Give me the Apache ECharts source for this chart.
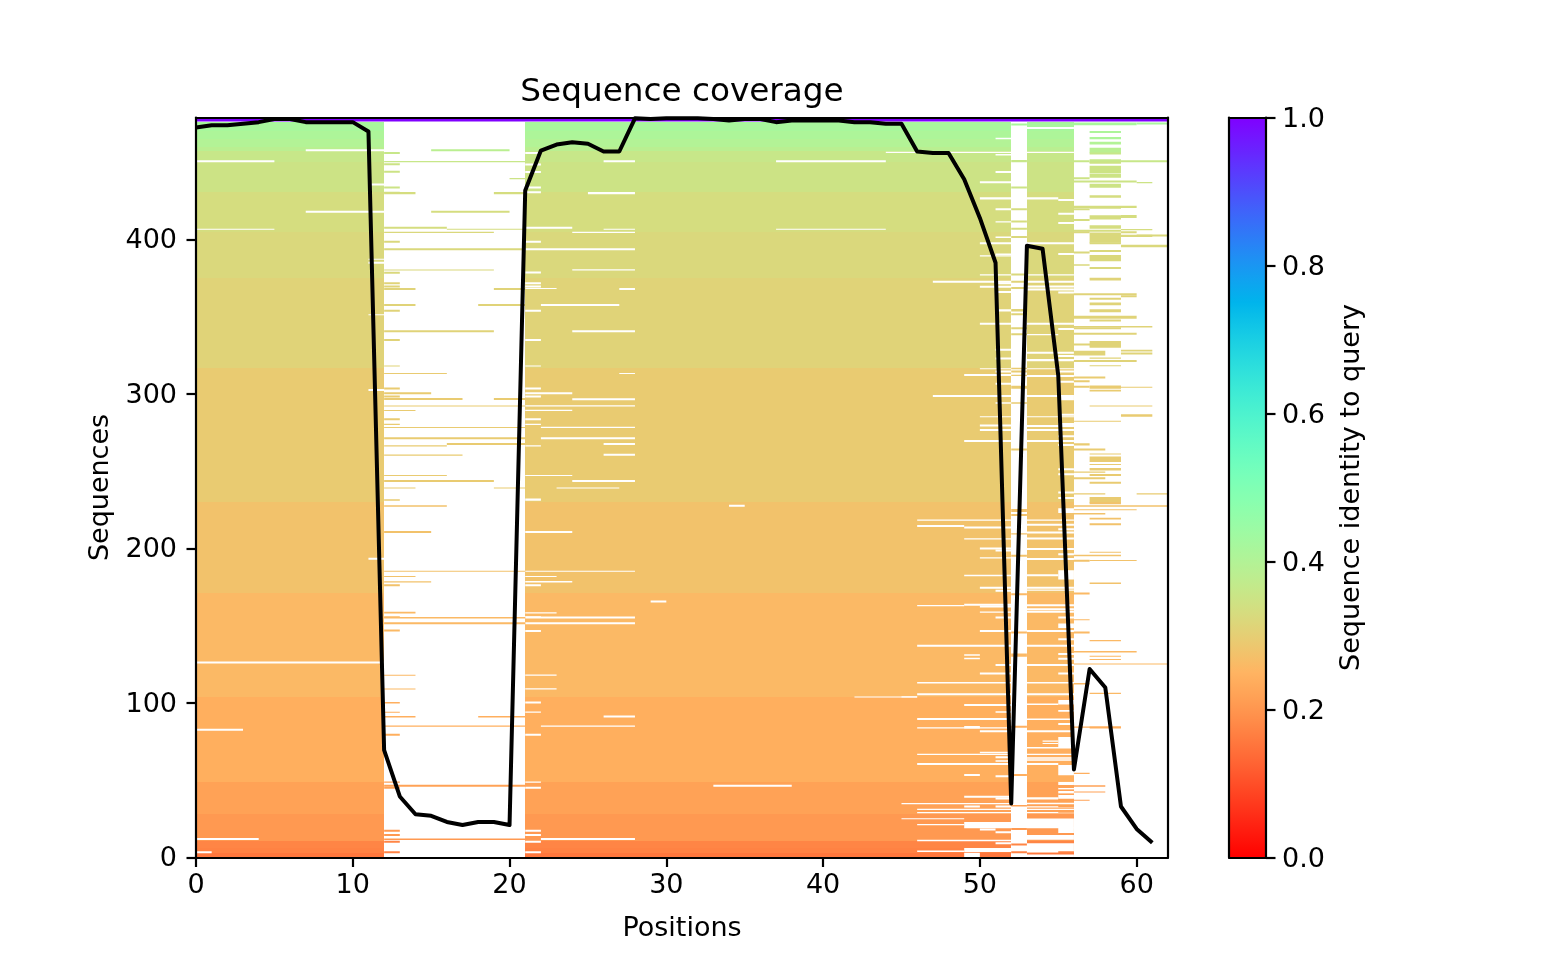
<!DOCTYPE html>
<html>
<head>
<meta charset="utf-8">
<style>html,body{margin:0;padding:0;background:#fff}#c{width:1568px;height:980px}#c canvas{filter:blur(0.45px)}</style>
<script src="https://cdn.jsdelivr.net/npm/echarts@6/dist/echarts.min.js"></script>
</head>
<body>
<div id="c"></div>
<script>
var titleText = 'Sequence coverage';
var xName = 'Positions';
var yName = 'Sequences';
var barName = 'Sequence identity to query';
var xTicks = [0, 10, 20, 30, 40, 50, 60];
var yTicks = [0, 100, 200, 300, 400];
var barTicks = [0, 0.2, 0.4, 0.6, 0.8, 1.0];

// [seq low, seq high, identity]
var identityBands = [
  [476.4, 479, 1.0], [470, 476.4, 0.42], [465, 470, 0.41], [460, 465, 0.40], [457.6, 460, 0.385],
  [450, 457.6, 0.36], [430.5, 450, 0.35], [404.6, 430.5, 0.333], [374.8, 404.6, 0.3225],
  [316.6, 374.8, 0.311], [230, 316.6, 0.293], [171, 230, 0.2755], [104, 171, 0.258],
  [49, 104, 0.241], [28, 49, 0.219], [10.7, 28, 0.205], [6, 10.7, 0.175], [3, 6, 0.17], [0, 3, 0.155]
];
var filledColumns = [[0, 12], [21, 52], [53, 56]];
var queryRow = [476.4, 0, 62, 2.6];

// white rows: [seq, from, to, thickness]
var gapsLeft = [
  [457.2,7,12],[450.1,0,5],[435,11,12],[417.3,7,12],[406.3,0,5,.5],[387,11,12,.5],[384.3,11,12],[351,11,12,.5],
  [302,11,12],[192.8,11,12],[125.6,0,12],[82,0,3],[11.3,0,4],[2.7,0,1]
];
var gapsMiddle = [
  [456.1,44,46,.6],[455.3,21,22],[450.1,26,28],[450.1,37,44],[448,21,22],[443,21,22],[433,21,22],[430,21,22],
  [429.4,25,28],[407,21,24],[406.3,26,28,.5],[406.3,37,44,.5],[404.2,24,28,.6],[398,21,22],[393,21,28],[380,24,28,.6],
  [378,21,22],[371,21,22],[369,21,22],[368,21,23,.5],[367.3,27,28],[357,22,27],[353.3,21,22],[340,24,28],[334.3,21,22],
  [317.9,21,22,.5],[313,27,28,.5],[303,21,22],[299.8,21,24],[297.8,21,22],[296,24,28],[292,21,28,.6],[289,21,24,.6],
  [283,21,22],[280,21,22,.6],[278,22,28,.6],[270.7,22,28],[267,26,28],[266,21,22,.6],[260,26,28],[247,21,24,.5],
  [243,24,28],[238.8,23,27,.6],[231,21,22],[227,34,35],[210,21,24],[185,21,28,.5],[181.6,21,23,.5],[178,21,24,.7],
  [175.6,21,22],[165,29,30],[158,21,23,.6],[155.3,21,22,.6],[154.7,21,28],[151,21,28],[146,21,22],[117.6,21,23,.6],
  [108.8,21,23,.6],[103.6,42,46,.5],[99.7,21,22],[93.7,21,22,.6],[90.6,26,28],[84.6,22,28,.6],[78.8,21,22],[48.4,21,22,.6],
  [45.8,33,38],[44.5,21,22],[16.7,21,22],[13.9,21,22],[11.3,22,28],[9.6,21,22],[2.7,21,22]
];
var gapsRightBlock = [
  [465,51,52,.7],[456,46,52,.6],[454.4,51,52,.7],[443,51,52],[436.5,50,52],[426,50,52],[419,51,52],[411,51,52,.6],[401,51,52,.7],
  [397,50,52],[390,51,52,.7],[389,50,52,.7],[376.8,50,52,.6],[372,47,52],[371,51,52],[368.8,50,52],[365.4,51,52],
  [353.5,51,52],[344.8,50,52],[328,51,52],[322.4,51,52],[316,50,52,.5],[314,51,52],[311.6,49,52],[306,51,52],[298,47,52],
  [293.7,51,52,.7],[285,50,52,.5],[279,50,52],[276,50,52],[269,49,52],
  [217.9,46,52,.7],[214,46,49],[213,49,52],[205.8,49,52,.7],[199.4,50,52],[198,51,52],[193.5,50,52,.7],[182,49,52,.8],
  [174,50,52],[172,51,52],[163,49,52],[162.7,46,49,.6],[161.8,50,52],[158.4,50,52,.7],[154.7,51,52],[146,50,52],[136.4,46,52],
  [130.6,49,50,.7],[128.4,49,50,.7],[124,51,52],[118.5,50,52],[112.7,46,52,.7],[105,46,52],[103.6,45,46,.6],[98,49,52],[93.7,51,52,.7],
  [89,46,52],[83.5,46,52,.6],[83.5,49,50,1.2],[81,50,52],[67.4,50,52,.8],[66.3,46,52,.7],[64.2,51,52],[62,51,52,.7],[59.8,46,52],[52.7,49,50],
  [52,51,52],[38.7,49,52],[37.6,51,52],[34.4,45,52,.7],[32.3,49,50],[32.3,51,52],[30.7,46,52,.7],[28.6,46,52,.7],[24.7,45,49,.6],
  [19,49,52,4],[20.8,46,49,.7],[17.4,50,51],[15.7,51,52],[10.5,46,52,.7],[8.5,51,52],[3.6,49,52,2.5],[3.6,46,49,.7],[0,49,50,3]
];
var gapsTailBlock = [
  [471.6,53,56],[456,53,56,.6],[426,53,55],[425,55,56],[416,55,56],[410,55,56],[397,53,56],[390,55,56],[376.8,53,56,.6],
  [372,53,56],[369,53,56],[367,53,56],[365,55,56],[344.8,53,56],[341.4,55,56],[338,53,55,.7],[326,53,56],[324,55,56],[321.3,53,56],
  [316,53,56,.5],[314,55,56],[311,53,56],[307.3,55,56],[298,53,56],[296,55,56,2],[286,55,56],[285,53,56,.5],[280,55,56],
  [278.6,53,56],[276,53,56],[272,55,56],[269,53,56],[266.3,55,56],[250.6,55,56],[247.4,55,56],[235.6,55,56],[232,55,56],
  [223,55,56,3],[217.9,53,56,.7],[214.7,53,56],[211.9,55,56],[209.7,53,56],[205.8,53,56],[199,53,56],[195.7,55,56],[192.5,53,56],
  [180,55,56,6],[182,53,55],[174,53,56],[172.6,53,56,.7],[162.7,53,56],[160,53,56],[158.4,53,56],[154.7,55,56],[148.5,55,56,3],
  [146,53,56],[140.7,55,56],[136.4,53,56],[131,55,56],[128,55,56],[124,53,56],[118.5,55,56],[112.7,53,56,.7],[105,53,56],
  [99,55,56,3],[98.7,53,55,.7],[94.4,55,56,.8],[89,53,56,.8],[85.7,55,56],[81,53,56],[71,55,56,7],[75,54,55,.6],[73.4,54,55,.6],
  [70.6,53,56,.7],[66.3,53,56,.7],[64,53,56,.7],[62.7,53,56,.7],[59.8,53,55],[53.3,55,56,6.5],[47,55,56,2],[44,55,56],[41.5,55,56,1.5],
  [38,55,56,3],[37.5,53,55,1.5],[34.4,53,56,.8],[32.3,53,56,.7],[30.7,53,56,.7],[28.6,53,56,.7],[19,53,56,6.3],[15.7,55,56,3.7],
  [11.5,53,56,3],[3.2,53,56,6],[0,53,56,2]
];

// coloured rows in the sparse columns: [seq, from, to, thickness]
var rowsCentre = [
  [457.2,15,20],[455.3,12,13],[450.1,12,21,.6],[448.1,12,13],[443.2,12,13],[439.1,20,21,.6],[433,12,13],[430.2,12,13,.6],
  [429.4,12,14],[429.4,19,21],[417.3,15,20],[407,12,16],[406.3,16,21,.5],[404.2,12,19,.6],[398,12,13],[393,12,21],[380,12,19,.5],
  [377.9,12,13],[371,12,13],[369,12,13],[367.3,12,14],[367.3,19,21],[357,12,14],[357,18,21],[353.3,12,13],[340,12,19],[334.3,12,13],
  [317.9,12,13,.5],[313,12,16,.5],[303,12,13],[299.8,12,15],[297.8,12,13],[296.1,12,17],[296.1,19,21],[292,12,21,.5],[289,12,14,.5],
  [283,12,13],[280,12,13,.6],[278,12,21,.5],[270.7,12,21],[267,16,21],[266,12,16,.6],[260,12,17,.7],[247,12,16,.5],[243,12,19],
  [238.8,12,14,.6],[238.8,19,21,.6],[231,12,13,.7],[227,12,16,.8],[210,12,15],[185,12,21,.5],[181.6,12,14,.5],[178,12,15,.6],[175.6,12,13],
  [158,12,14,.8],[155.3,12,13,.6],[154.7,12,21,.8],[151,12,21],[146.3,12,13],[117.6,12,14,.5],[108.8,12,14,.5],[99.7,12,13,.7],
  [93.7,12,13,.5],[90.6,12,14,.8],[90.6,18,21,.8],[84.6,12,21,.6],[78.8,12,13],[48.4,12,13,.6],[45.8,12,21],[44.5,12,13],[16.7,12,13],
  [13.9,12,13],[11.3,12,21,.8],[9.6,12,13],[2.7,12,13]
];
var rowsNarrow = [
  [473.8,52,53],[450,52,53,1.2],[433,52,53],[419,52,53],[411,52,53],[406.3,52,53],[401,52,53],[376.8,52,53],[372,52,53],[368,52,53],
  [353.5,52,53,1.5],[351,52,53],[342,52,53],[338,52,53],[316,52,53,.8],[314,52,53],[311.6,52,53,.7],[303.4,52,53,2],[293.7,52,53,.7],[263.5,52,53],
  [223.7,52,53,1.4],[221,52,53],[209,52,53,.7],[194.6,52,53],[169.8,52,53],[145,52,53],[130,52,53,2],[84,52,53],[52.7,52,53],[33,52,53,.7],
  [17.8,52,53],[7.7,52,53],[2.7,52,53]
];
var rowsTail = [
  [474,56,60,1.8],[474.5,60,62],[469,57,59],[465,57,59],[461.5,57,59,1.8],[456,57,59,3.4],[455,57,59],[449.5,57,59,2.4],[450,56,57],[450,59,62],[449,57,59],
  [443,57,59,4.8],[440,57,59,2.8],[439,56,57],[437,56,60],[436.5,60,61,.6],[433.5,57,59,2.6],[427,57,59,1.7],[420.5,56,60],[419,56,57],[420,57,59],[413,57,59,2.8],[412,56,57],
  [414,59,60,1.4],[407,57,59,2.2],[406,59,61,.6],[405,56,59],[404,59,60],[404,56,57],[398,57,59,6.5],[401.6,59,61,1.2],[402,60,62],[397,57,59],[395,59,62,1.3],[392,57,59],
  [391,56,57],[386,57,59,4],[383,56,57,.8],[381,57,59],[373.5,57,59,1.7],[364,56,60],
  [362.7,59,60],[361,57,59],[357.5,57,59,1.8],[353,57,59,1.4],[348.7,56,60,2],[347,57,59],[343,56,61,.8],[342,56,59],[338.4,56,60],[331,57,59,3.4],[331.4,56,58],[330,57,59],
  [327.6,59,61,.8],[325,56,58,3],[325.6,59,61],[322.8,57,59,.6],[320.7,56,60],[318,57,59,.5],[310,56,58],[307.7,56,57],[303.5,57,59,2],[304,59,61,.6],[304,56,57],[301.7,57,59,.8],
  [292,57,61,.5],[285.3,59,61,1.2],[282,56,59,.5],[266.7,56,57,1.5],[263.5,56,58],[260.8,57,59,.5],[256,57,59,3.5],[254,57,59,.6],[250.5,57,59,1.6],[249,56,58,.6],[247,57,59],[244.8,56,58],[242,57,59],
  [235,56,58,.6],[235,60,62,.6],[229.5,57,59,3.8],[228.7,57,59],[227,56,62,.8],[224.8,56,60,.5],[222,56,58,.8],[218.8,57,59,.8],[215,57,59,1.1],[197.2,57,59,.5],[195,56,59,.7],[192,57,60,.5],[191.4,56,57],
  [177,57,59,.8],[170.2,56,57],[153.6,56,57,.5],[145,56,57],[140,57,59,.6],[132.7,56,60,.7],[130,57,59,.5],[127.8,57,59,.5],[125,56,62,.5],
  [112,56,57,.7],[105.8,57,59,.6],[84,56,59,.6],[83.5,57,59],[54,56,57,.6],[45.8,56,58,.8],[42,56,58,.6],
  [49,55,56,1.4],[45,55,56],[43,55,56,.6],[40.5,55,56,.6],[36.8,55,57,.5],[32.5,55,56],[29,55,56],[14.6,55,56],[2.7,55,56]
];
var coveragePositions = [];
for (var p = 0; p < 62; p++) coveragePositions.push(p);
var coverageValues = [
  472.5,474,474,475,476,478,478,476,476,476,476,470,69.5,39.5,28,27,23,21,23,23,21,431.7,457.6,461.5,463,462,457,457,
  478.5,478,478.5,478.5,478.5,478,477,478,478,476,477,477,477,477,476,476,475,475,457,456,456,439,414,385,35,396,394,312,57,122,110,33,18.5,9.5
];

function rainbowRev(id) {
  var t = 1 - id;
  var r = Math.abs(2 * t - 0.5), g = Math.sin(Math.PI * t), b = Math.cos(Math.PI * t / 2);
  function h(v) { return Math.max(0, Math.min(255, Math.round(v * 255))); }
  return 'rgb(' + h(r) + ',' + h(g) + ',' + h(b) + ')';
}
function identityAt(seq) {
  for (var i = 0; i < identityBands.length; i++) {
    if (seq >= identityBands[i][0] && seq < identityBands[i][1]) return identityBands[i][2];
  }
  return 0.3;
}

// built tables: [x0, x1, yLow, yHigh, identity]
var bandCells = [];
filledColumns.forEach(function (c) {
  identityBands.slice(1).forEach(function (b) { bandCells.push([c[0], c[1], b[0], b[1], b[2]]); });
});
var rowBlur = 1.3;
function rowsToCells(rows) {
  return rows.map(function (r) {
    var h = (r[3] === undefined ? 1 : r[3]);
    var drawn = h < 1.5 ? h * rowBlur : h;
    return [r[1], r[2], r[0], r[0] + drawn, identityAt(Math.min(r[0] + h / 2, 476.3))];
  });
}
var gapCells = rowsToCells(gapsLeft.concat(gapsMiddle, gapsRightBlock, gapsTailBlock));
var strayCells = rowsToCells(rowsCentre.concat(rowsNarrow, rowsTail));
var queryCells = [[queryRow[1], queryRow[2], queryRow[0], queryRow[0] + queryRow[3], 1.0]];

function cellRenderer(fill, snap) {
  return function (params, api) {
    var a = api.coord([api.value(0), api.value(3)]);
    var b = api.coord([api.value(1), api.value(2)]);
    var x0 = a[0], x1 = b[0], y0 = a[1], y1 = b[1];
    if (snap) { x0 = Math.round(x0); x1 = Math.round(x1); y0 = Math.round(y0); y1 = Math.round(y1); }
    var rect = echarts.graphic.clipRectByRect(
      { x: x0, y: y0, width: x1 - x0, height: y1 - y0 },
      { x: params.coordSys.x, y: params.coordSys.y, width: params.coordSys.width, height: params.coordSys.height }
    );
    if (!rect) return null;
    return {
      type: 'rect', shape: rect,
      style: { fill: fill || rainbowRev(api.value(4)), stroke: null }
    };
  };
}
function cellSeries(name, data, fill, snap, z) {
  return {
    name: name, type: 'custom', xAxisIndex: 0, yAxisIndex: 0, data: data, z: z, silent: true,
    animation: false, clip: true, renderItem: cellRenderer(fill, snap),
    encode: { x: [0, 1], y: [2, 3] }
  };
}

var font = '"DejaVu Sans"';
var AX = '#000';
var lineW = 2.2;
function baseAxis(extra) {
  var o = {
    type: 'value', z: 10,
    axisLine: { show: true, onZero: false, lineStyle: { color: AX, width: lineW } },
    axisTick: { show: true, inside: false, length: 9.5, lineStyle: { color: AX, width: lineW } },
    axisLabel: { show: true, color: '#000', fontFamily: font, fontSize: 27, margin: 9.5 },
    splitLine: { show: false },
    nameTextStyle: { color: '#000', fontFamily: font, fontSize: 27 }
  };
  for (var k in extra) o[k] = extra[k];
  return o;
}
function frameAxis(extra) {
  var o = {
    type: 'value', z: 10, axisLine: { show: true, onZero: false, lineStyle: { color: AX, width: lineW } },
    axisTick: { show: false }, axisLabel: { show: false }, splitLine: { show: false }
  };
  for (var k in extra) o[k] = extra[k];
  return o;
}

var gradientStops = [];
for (var s = 0; s <= 64; s++) gradientStops.push({ offset: s / 64, color: rainbowRev(1 - s / 64) });

var xAxisMain = baseAxis({
  gridIndex: 0, position: 'bottom', min: 0, max: 62, name: xName, nameLocation: 'middle', nameGap: 58,
  axisTick: { show: true, length: 9.5, customValues: xTicks, lineStyle: { color: AX, width: lineW } },
  axisLabel: { show: true, customValues: xTicks, color: '#000', fontFamily: font, fontSize: 27, margin: 15 }
});
var yAxisMain = baseAxis({
  gridIndex: 0, position: 'left', min: 0, max: 479, name: yName, nameLocation: 'middle', nameGap: 80,
  nameRotate: 90,
  axisTick: { show: true, length: 9.5, customValues: yTicks, lineStyle: { color: AX, width: lineW } },
  axisLabel: {
    show: true, customValues: yTicks, color: '#000', fontFamily: font, fontSize: 27, margin: 19,
    formatter: function (v) { return '{a|' + v + '}'; },
    rich: { a: { color: '#000', fontFamily: font, fontSize: 27, padding: [3, 0, 0, 0] } }
  }
});
var xAxisBar = frameAxis({ gridIndex: 1, position: 'bottom', min: 0, max: 1 });
var xAxisBarTop = frameAxis({ gridIndex: 1, position: 'top', min: 0, max: 1 });
var yAxisBarLeft = frameAxis({ gridIndex: 1, position: 'left', min: 0, max: 1 });
var yAxisBar = baseAxis({
  gridIndex: 1, position: 'right', min: 0, max: 1, name: barName, nameLocation: 'middle', nameGap: 72,
  nameRotate: 90,
  axisTick: { show: true, length: 9.5, customValues: barTicks, lineStyle: { color: AX, width: lineW } },
  axisLabel: {
    show: true, customValues: barTicks, color: '#000', fontFamily: font, fontSize: 27, margin: 16,
    formatter: function (v) { return '{a|' + v.toFixed(1) + '}'; },
    rich: { a: { color: '#000', fontFamily: font, fontSize: 27, padding: [4, 0, 0, 0] } }
  }
});

var option = {
  backgroundColor: '#fff',
  animation: false,
  title: {
    text: titleText, left: 677, top: 71, textAlign: 'center',
    textStyle: { color: '#000', fontFamily: font, fontSize: 32.7, fontWeight: 'normal' }
  },
  grid: [
    { left: 196, top: 117.5, width: 972, height: 740, containLabel: false },
    { left: 1229, top: 117.5, width: 37, height: 740, containLabel: false }
  ],
  xAxis: [
    xAxisMain,
    frameAxis({ gridIndex: 0, position: 'top', min: 0, max: 62 }),
    xAxisBar, xAxisBarTop
  ],
  yAxis: [
    yAxisMain,
    frameAxis({ gridIndex: 0, position: 'right', min: 0, max: 479 }),
    yAxisBarLeft, yAxisBar
  ],
  series: [
    cellSeries('bands', bandCells, null, true, 1),
    cellSeries('gaps', gapCells, '#fff', false, 2),
    cellSeries('rows', strayCells, null, false, 3),
    cellSeries('query', queryCells, null, false, 4),
    {
      name: 'coverage', type: 'line', xAxisIndex: 0, yAxisIndex: 0, z: 5, silent: true,
      data: coveragePositions.map(function (p, i) { return [p, coverageValues[i]]; }),
      showSymbol: false, symbol: 'none', smooth: false,
      lineStyle: { color: '#000', width: 4, join: 'round', cap: 'butt' }
    },
    {
      name: 'colorbar', type: 'custom', xAxisIndex: 2, yAxisIndex: 2, z: 2, silent: true,
      data: [[0, 1, 0, 1]],
      renderItem: function (params, api) {
        var a = api.coord([0, 1]), b = api.coord([1, 0]);
        return {
          type: 'rect',
          shape: { x: a[0], y: a[1], width: b[0] - a[0], height: b[1] - a[1] },
          style: { fill: new echarts.graphic.LinearGradient(0, 0, 0, 1, gradientStops) }
        };
      }
    }
  ]
};
var chart = echarts.init(document.getElementById('c'), null, { renderer: 'canvas', width: 1568, height: 980 });
chart.setOption(option);
</script>
</body>
</html>
